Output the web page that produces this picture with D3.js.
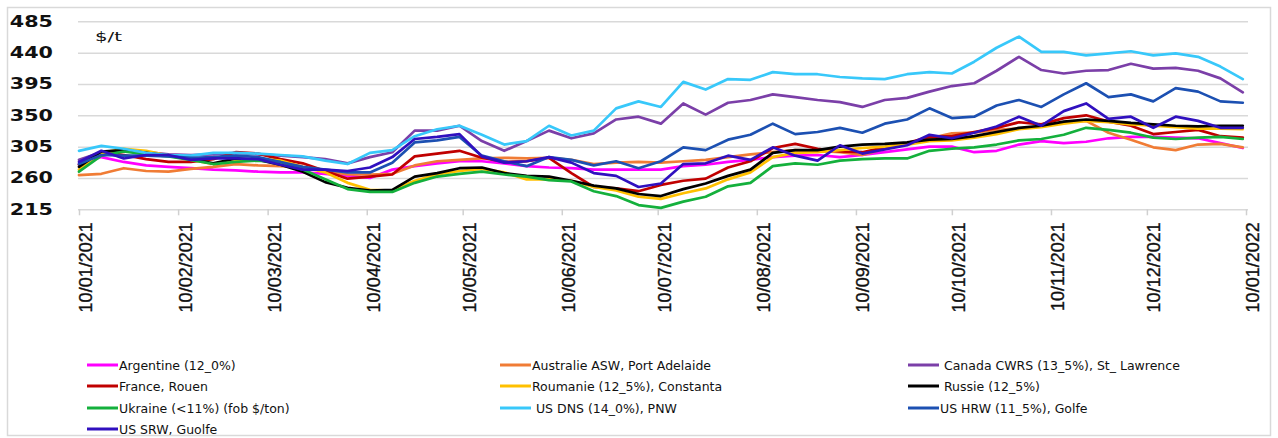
<!DOCTYPE html>
<html><head><meta charset="utf-8">
<script src="https://cdn.jsdelivr.net/npm/d3@7"></script>
<style>body{margin:0;background:#fff;}svg{display:block;}</style>
</head><body><svg id="c" width="1278" height="438"></svg>
<script>
// ---- data ----
const startDate = "2021-01-10";   // first observation, weekly series
const stepDays = 7;
const tickLabels = ["10/01/2021","10/02/2021","10/03/2021","10/04/2021","10/05/2021","10/06/2021","10/07/2021","10/08/2021","10/09/2021","10/10/2021","10/11/2021","10/12/2021","10/01/2022"];
const yTicks = [215,260,305,350,395,440,485];
const unitLabel = "$/t";
const seriesNames = ["Argentine (12_0%)","Australie ASW, Port Adelaide"," Canada CWRS (13_5%), St_ Lawrence","France, Rouen","Roumanie (12_5%), Constanta"," Russie (12_5%)","Ukraine (<11%) (fob $/ton)"," US DNS (14_0%), PNW","US HRW (11_5%), Golfe","US SRW, Guolfe"];
const seriesColors = ["#ff00ff","#f07c35","#7b3fa8","#c00000","#ffc000","#000000","#14b03c","#38c8fa","#1c50b2","#3010bf"];
const argentine = [280,290,283,278,276,274,272,271,269,268,268,266,263,260,272,277,281,284,284,281,277,275,274,272,272,272,272,277,279,283,286,290,292,293,290,293,297,301,305,305,297,299,308,313,310,312,317,319,319,318,317,310,303];
const australie = [264,266,274,270,269,273,276,280,278,277,275,270,265,265,266,278,284,286,288,289,288,289,286,280,282,283,282,284,286,290,294,297,300,299,297,293,302,309,317,324,325,329,331,334,340,342,325,315,304,300,308,309,304];
const canada = [286,297,298,297,294,293,294,296,294,292,290,287,281,290,297,328,328,335,313,299,313,328,317,324,344,348,338,367,351,368,372,380,376,372,369,362,372,375,384,392,396,414,434,415,410,414,415,424,417,418,414,403,383];
const france = [279,297,293,287,283,283,287,297,295,287,281,270,259,262,265,291,295,299,289,283,284,289,267,247,245,241,250,256,259,275,284,303,309,302,298,297,304,310,319,320,326,332,340,337,346,350,341,335,323,326,329,320,318];
const roumanie = [272,296,302,299,292,286,280,284,288,285,276,268,253,243,242,256,265,270,273,268,258,258,256,247,242,233,230,238,245,258,268,290,296,297,300,303,305,308,313,314,318,323,330,333,338,342,340,337,335,333,331,331,330];
const russie = [276,298,300,296,292,287,281,288,286,279,269,254,246,242,243,262,267,274,275,267,263,262,256,249,245,237,234,244,252,263,272,296,300,300,305,308,309,311,315,316,320,326,332,335,341,344,342,339,337,335,334,335,335];
const ukraine = [269,292,298,294,291,286,280,283,285,283,272,258,244,240,240,253,262,266,269,265,262,257,255,241,234,221,217,226,233,248,253,277,281,279,285,287,288,288,299,302,304,308,314,316,322,332,329,325,318,316,318,319,316];
const usDNS = [299,306,302,296,293,292,296,296,295,293,291,285,280,296,300,320,330,335,322,308,313,335,321,328,360,370,362,398,387,402,401,412,409,409,405,403,402,409,412,410,427,447,463,441,441,436,439,442,436,439,434,420,402];
const usHRW = [280,293,292,292,291,289,290,292,290,283,276,272,268,268,282,311,314,319,292,284,277,290,286,278,284,274,284,304,300,315,322,338,323,326,332,325,338,344,360,346,348,364,372,362,380,396,376,380,370,389,384,370,368];
const usSRW = [283,299,288,293,293,286,288,288,287,279,272,272,270,275,290,316,319,323,291,282,284,290,282,267,263,247,252,280,281,292,286,304,292,285,307,295,301,307,322,317,325,334,348,335,356,367,345,348,332,348,342,332,332];
const seriesValues = [argentine,australie,canada,france,roumanie,russie,ukraine,usDNS,usHRW,usSRW];

// ---- chart ----
const svg = d3.select("#c");
const parseTick = d3.timeParse("%d/%m/%Y");
const fmtTick = d3.timeFormat("%d/%m/%Y");
const tickDates = tickLabels.map(parseTick);
const t0 = d3.timeParse("%Y-%m-%d")(startDate);
const dates = argentine.map((_, i) => d3.timeDay.offset(t0, i * stepDays));

const L = 78, R = 1248;
const x = d3.scaleTime().domain([tickDates[0], tickDates[tickDates.length-1]]).range([79, 1246]);
const y = d3.scaleLinear().domain([215, 485]).range([209.3, 21.3]);

// frame
svg.append("rect").attr("x",7.5).attr("y",7.5).attr("width",1263).attr("height",428)
  .attr("fill","none").attr("stroke","#d9d9d9").attr("stroke-width",1.5);

// gridlines
const gy = svg.append("g").attr("transform",`translate(${L},0)`)
  .call(d3.axisLeft(y).tickValues(yTicks).tickSize(-(R-L)).tickFormat(""));
gy.select(".domain").remove();
gy.selectAll(".tick line").attr("stroke","#d9d9d9").attr("stroke-width",1.5);

// y labels
svg.append("g").selectAll("text").data(yTicks).join("text")
  .attr("transform", d => `translate(53,${y(d)}) scale(1.38,1)`)
  .attr("text-anchor","end").attr("dominant-baseline","central")
  .style("font-family","DejaVu Sans").style("font-weight","bold").style("font-size","15px")
  .attr("fill","#111").text(d => d);

// unit label
svg.append("text").attr("x",95).attr("y",36).attr("dominant-baseline","central")
  .attr("textLength",27).attr("lengthAdjust","spacingAndGlyphs")
  .style("font-family","DejaVu Sans").style("font-size","13px").attr("fill","#111").text(unitLabel);

// x axis
const gx = svg.append("g").attr("transform",`translate(0,${y(215)})`)
  .call(d3.axisBottom(x).tickValues(tickDates).tickSize(6).tickFormat(fmtTick));
gx.select(".domain").remove();
gx.selectAll(".tick line").attr("stroke","#d0d0d0").attr("stroke-width",1.5);
gx.selectAll(".tick text")
  .attr("transform","rotate(-90)").attr("x",-13).attr("y",0).attr("dy","0.72em")
  .style("text-anchor","end").style("font-family","Liberation Sans").style("font-size","18px")
  .attr("fill","#111").attr("stroke","#111").attr("stroke-width",0.35);

// lines
const line = d3.line().x((d,i) => x(dates[i])).y(d => y(d)).curve(d3.curveLinear);
svg.append("g").selectAll("path").data(seriesValues).join("path")
  .attr("d", d => line(d)).attr("fill","none")
  .attr("stroke", (d,i) => seriesColors[i]).attr("stroke-width",2.7)
  .attr("stroke-linejoin","round").attr("stroke-linecap","round");

// legend
const colX = [87, 500, 908], rowY = [365, 386, 408, 429];
const lg = svg.append("g").selectAll("g").data(seriesNames).join("g")
  .attr("transform",(d,i) => `translate(${colX[i%3]},${rowY[Math.floor(i/3)]})`);
lg.append("line").attr("x1",0).attr("x2",31).attr("y1",0).attr("y2",0)
  .attr("stroke",(d,i)=>seriesColors[i]).attr("stroke-width",3);
lg.append("text").attr("x",32).attr("y",0).attr("dominant-baseline","central")
  .style("white-space","pre").attr("xml:space","preserve")
  .style("font-family","DejaVu Sans").style("font-size","12.5px").attr("fill","#111")
  .text(d => d);
</script></body></html>
